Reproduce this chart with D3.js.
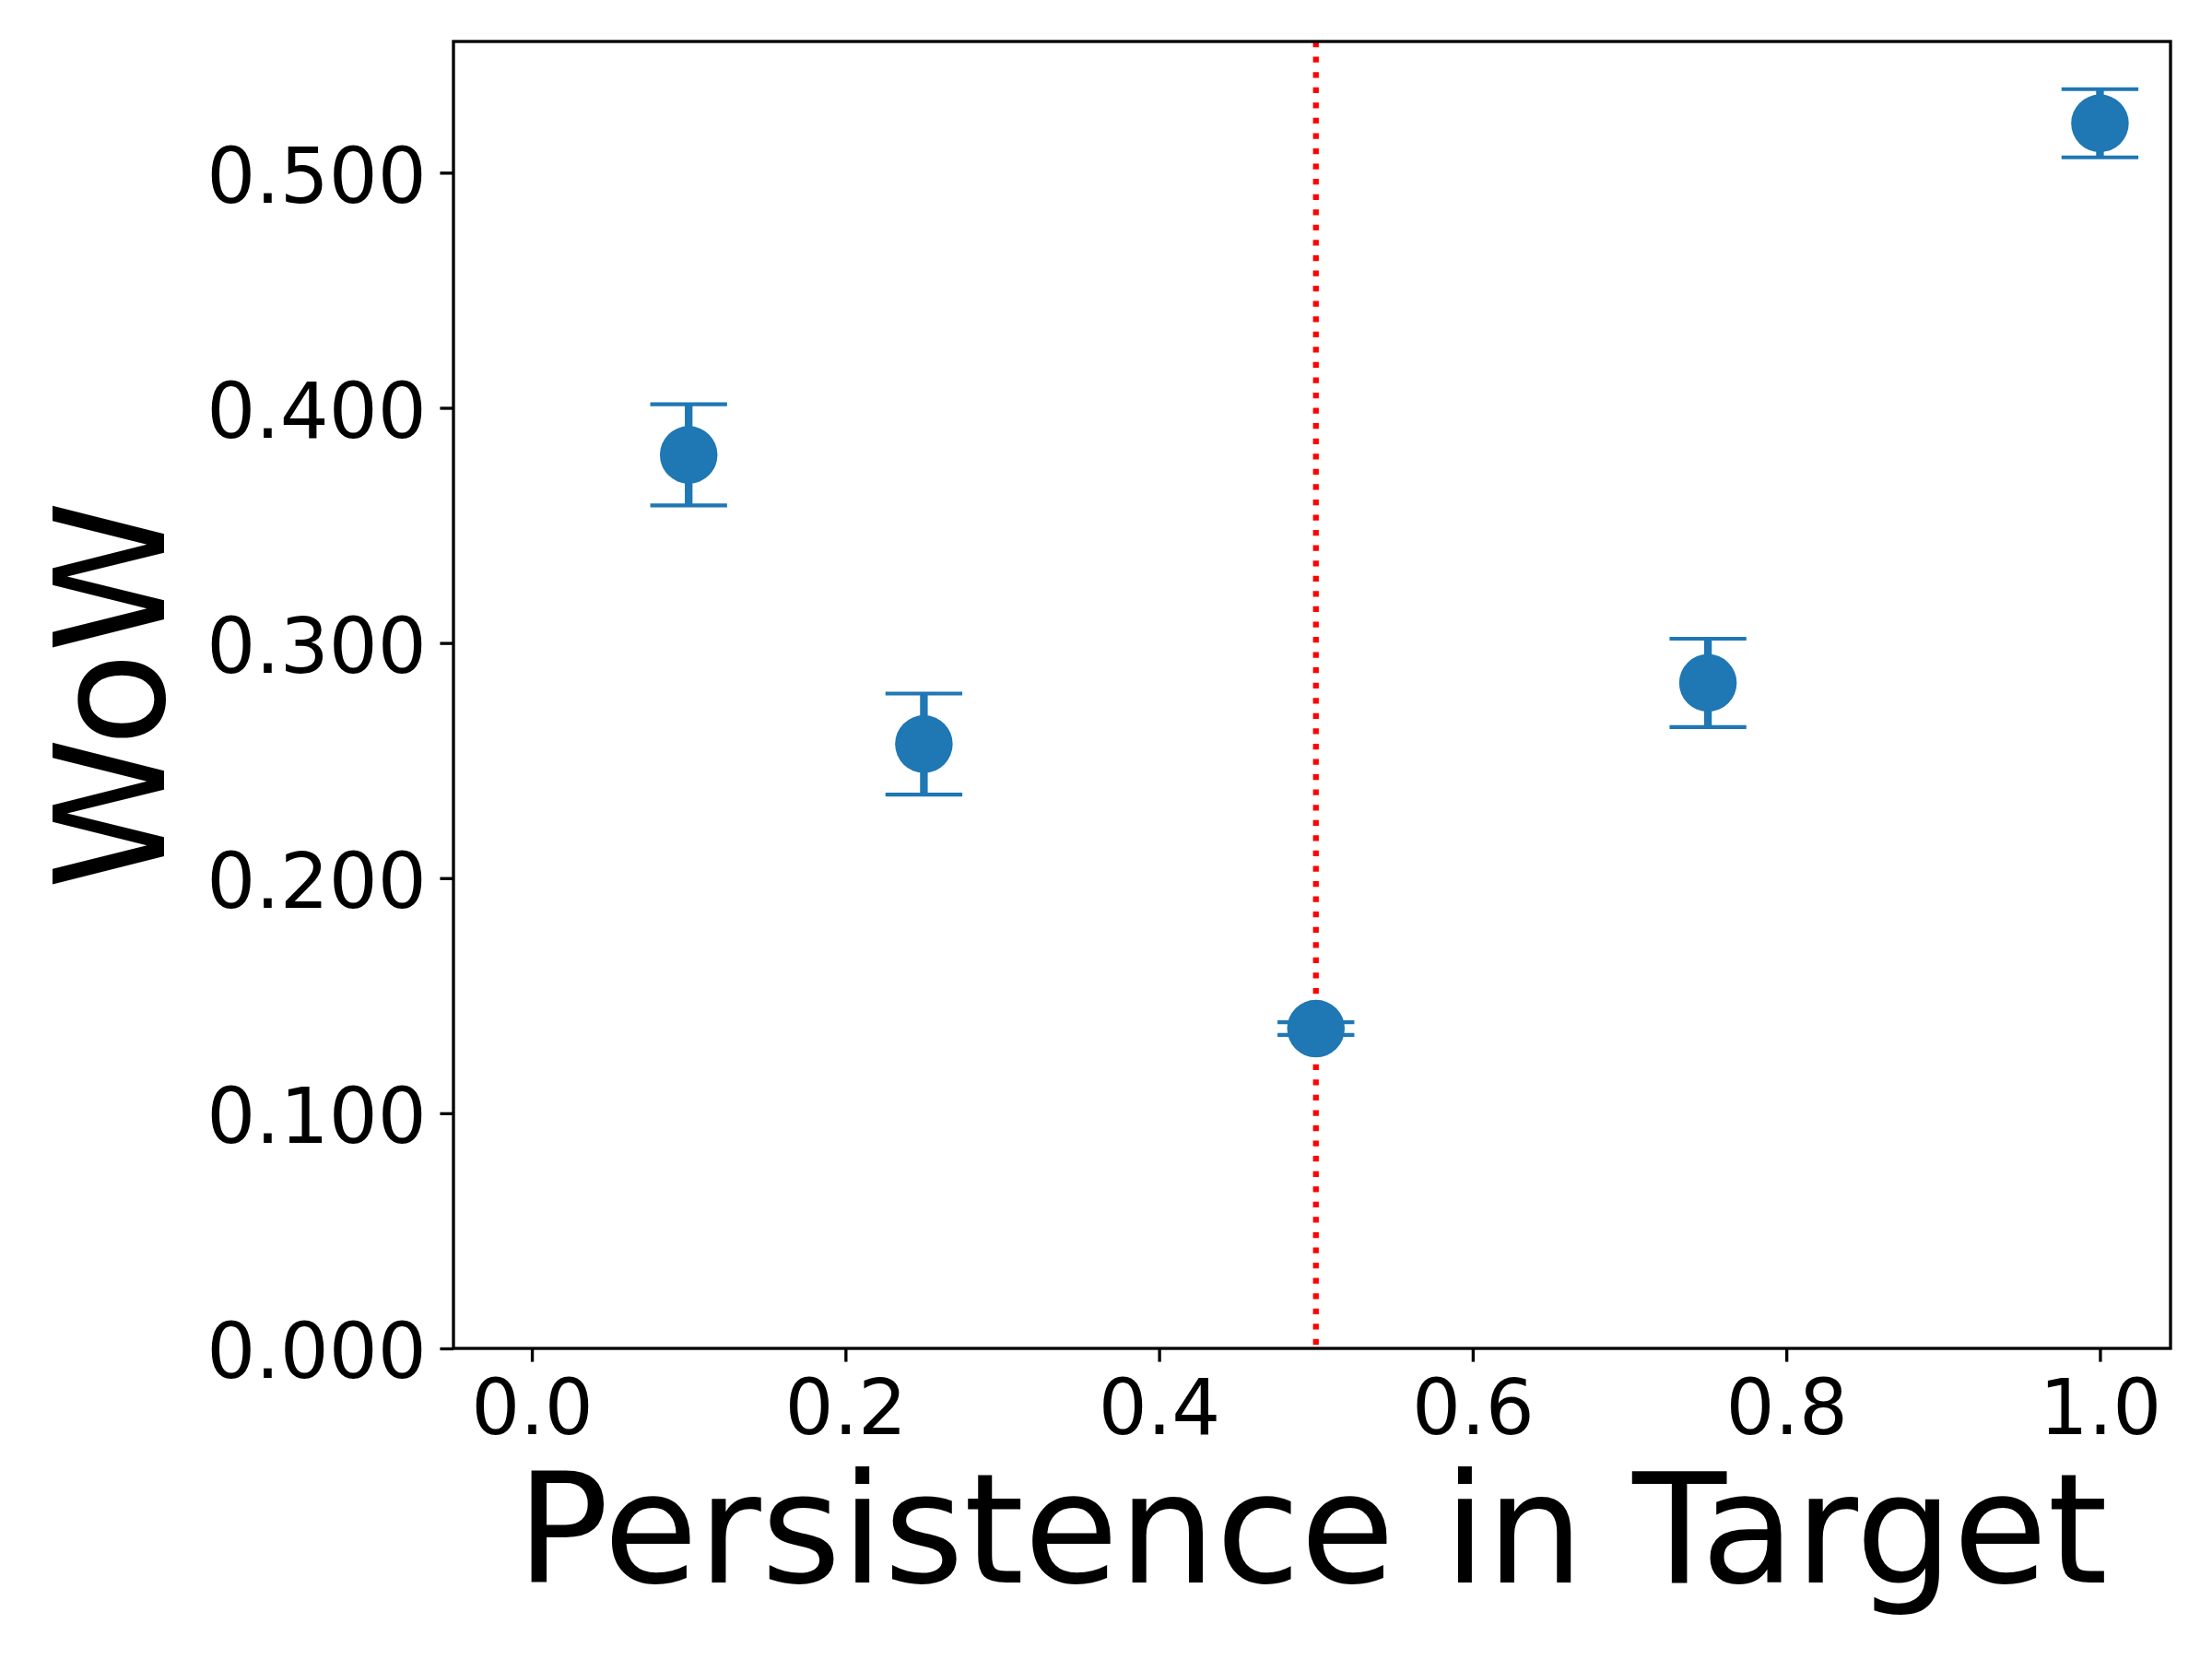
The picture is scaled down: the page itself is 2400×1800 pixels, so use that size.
<!DOCTYPE html>
<html>
<head>
<meta charset="utf-8">
<script src="https://cdn.jsdelivr.net/npm/d3@7"></script>
<style>
  body { margin: 0; background: #fff; }
  text { font-family: "DejaVu Sans", sans-serif; fill: #000; }
</style>
</head>
<body>
<div id="chart"></div>
<script>
// Data
var persistence = [0.10, 0.25, 0.50, 0.75, 1.00],
    wow         = [0.380, 0.257, 0.136, 0.283, 0.521],
    wowErr      = [0.0215, 0.0215, 0.0027, 0.0188, 0.0145],
    xTicks      = [0.0, 0.2, 0.4, 0.6, 0.8, 1.0],
    yTicks      = [0.0, 0.1, 0.2, 0.3, 0.4, 0.5],
    threshold   = [0.5];

// Parameters (300 dpi: 1pt = 300/72 px)
var pt = 300 / 72,
    width = 2400,
    height = 1800,
    plotLeft = 492, plotRight = 2355, plotTop = 45, plotBottom = 1463,
    blue = "#1f77b4",
    tickLen = 3.5 * pt,
    tickPad = 3.5 * pt,
    tickFont = 20 * pt,
    labelFont = 40 * pt;

var svg = d3.select("#chart")
    .append("svg")
    .attr("width", width)
    .attr("height", height);

var x = d3.scaleLinear().domain([-0.05, 1.045]).range([plotLeft, plotRight]);
var y = d3.scaleLinear().domain([0, 0.5558]).range([plotBottom, plotTop]);

// Red dotted threshold line
svg.append("g")
  .selectAll("line")
  .data(threshold)
  .enter().append("line")
    .attr("x1", function(d) { return x(d); })
    .attr("x2", function(d) { return x(d); })
    .attr("y1", plotTop)
    .attr("y2", plotBottom)
    .style("stroke", "red")
    .style("stroke-width", 1.5 * pt)
    .style("stroke-dasharray", (1.5 * pt) + "," + (1.65 * 1.5 * pt));

// Error bars
var pts = persistence.map(function(p, i) { return { x: p, y: wow[i], e: wowErr[i] }; });

var bars = svg.append("g").attr("class", "errorbars")
  .selectAll("g")
  .data(pts)
  .enter().append("g");

bars.append("line")
    .attr("x1", function(d) { return x(d.x); })
    .attr("x2", function(d) { return x(d.x); })
    .attr("y1", function(d) { return y(d.y - d.e); })
    .attr("y2", function(d) { return y(d.y + d.e); })
    .style("stroke", blue)
    .style("stroke-width", 2 * pt);

[-1, 1].forEach(function(s) {
  bars.append("line")
      .attr("x1", function(d) { return x(d.x) - 10 * pt; })
      .attr("x2", function(d) { return x(d.x) + 10 * pt; })
      .attr("y1", function(d) { return y(d.y + s * d.e); })
      .attr("y2", function(d) { return y(d.y + s * d.e); })
      .style("stroke", blue)
      .style("stroke-width", 1 * pt);
});

// Markers
svg.append("g").attr("class", "points")
  .selectAll("circle")
  .data(pts)
  .enter().append("circle")
    .attr("cx", function(d) { return x(d.x); })
    .attr("cy", function(d) { return y(d.y); })
    .attr("r", 7.5 * pt)
    .style("fill", blue);

// Axes
var xAxis = d3.axisBottom(x)
    .tickValues(xTicks)
    .tickFormat(d3.format(".1f"))
    .tickSize(tickLen)
    .tickPadding(tickPad);

var yAxis = d3.axisLeft(y)
    .tickValues(yTicks)
    .tickFormat(d3.format(".3f"))
    .tickSize(tickLen)
    .tickPadding(tickPad);

var gx = svg.append("g")
    .attr("transform", "translate(0," + plotBottom + ")")
    .call(xAxis);
gx.select(".domain").remove();
gx.selectAll(".tick line").style("stroke", "#000").style("stroke-width", 0.8 * pt);
gx.selectAll(".tick text")
    .attr("y", tickLen + tickPad)
    .attr("dy", "0.76em")
    .style("font-size", tickFont + "px")
    .style("font-family", "DejaVu Sans")
    .style("fill", "#000");

var gy = svg.append("g")
    .attr("transform", "translate(" + plotLeft + ",0)")
    .call(yAxis);
gy.select(".domain").remove();
gy.selectAll(".tick line").style("stroke", "#000").style("stroke-width", 0.8 * pt);
gy.selectAll(".tick text")
    .attr("dy", "0.38em")
    .style("font-size", tickFont + "px")
    .style("font-family", "DejaVu Sans")
    .style("fill", "#000");

// Frame
svg.append("rect")
    .attr("x", plotLeft)
    .attr("y", plotTop)
    .attr("width", plotRight - plotLeft)
    .attr("height", plotBottom - plotTop)
    .style("fill", "none")
    .style("stroke", "#000")
    .style("stroke-width", 0.8 * pt);

// Axis labels
svg.append("text")
    .attr("x", (plotLeft + plotRight) / 2)
    .attr("y", 1717)
    .attr("text-anchor", "middle")
    .style("font-size", labelFont + "px")
    .text("Persistence in Target");

svg.append("text")
    .attr("transform", "translate(178," + ((plotTop + plotBottom) / 2) + ") rotate(-90)")
    .attr("text-anchor", "middle")
    .style("font-size", labelFont + "px")
    .text("WoW");
</script>
</body>
</html>
